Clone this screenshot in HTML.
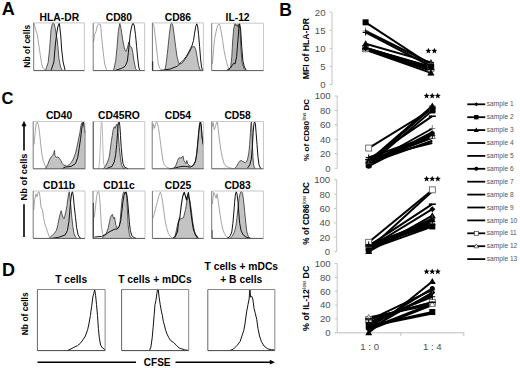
<!DOCTYPE html><html><head><meta charset="utf-8"><style>html,body{margin:0;padding:0;background:#fff;}svg{display:block;}text{font-family:"Liberation Sans",sans-serif;}</style></head><body>
<svg width="520" height="368" viewBox="0 0 520 368">
<rect width="520" height="368" fill="#fff"/>
<text x="8.3" y="14.8" font-size="18" font-weight="bold" text-anchor="middle" fill="#000" >A</text>
<text x="285.5" y="15.6" font-size="17.5" font-weight="bold" text-anchor="middle" fill="#000" >B</text>
<text x="7.4" y="103.5" font-size="16.5" font-weight="bold" text-anchor="middle" fill="#000" >C</text>
<text x="8.5" y="275.9" font-size="18" font-weight="bold" text-anchor="middle" fill="#000" >D</text>
<text x="59.35" y="20.8" font-size="10.3" font-weight="bold" text-anchor="middle" fill="#000" >HLA-DR</text>
<text x="118.9" y="20.8" font-size="10.3" font-weight="bold" text-anchor="middle" fill="#000" >CD80</text>
<text x="177.9" y="20.8" font-size="10.3" font-weight="bold" text-anchor="middle" fill="#000" >CD86</text>
<text x="237.6" y="20.8" font-size="10.3" font-weight="bold" text-anchor="middle" fill="#000" >IL-12</text>
<text x="0" y="0" font-size="8.5" font-weight="bold" text-anchor="middle" fill="#000" transform="translate(30,46.2) rotate(-90)">Nb of cells</text>
<polygon points="45.4,70.6 45.4,70.6 48.2,62.4 49.7,48.3 51.0,30.0 52.5,23.1 53.9,23.1 55.3,28.5 56.3,35.0 57.4,41.0 58.9,58.0 60.5,67.0 62.4,70.6 62.4,70.6" fill="#c3c3c3" stroke="none"/>
<polyline points="45.4,70.6 48.2,62.4 49.7,48.3 51.0,30.0 52.5,23.1 53.9,23.1 55.3,28.5 56.3,35.0 57.4,41.0 58.9,58.0 60.5,67.0 62.4,70.6" fill="none" stroke="#3a3a3a" stroke-width="0.85" stroke-linejoin="round"/>
<polyline points="51.0,70.6 53.9,62.0 55.3,45.0 56.5,35.0 57.8,27.0 59.3,23.0 60.7,35.0 61.7,50.0 63.1,62.0 65.2,70.6" fill="none" stroke="#111" stroke-width="1.0" stroke-linejoin="round"/>
<polyline points="33.7,22.9 35.9,30.3 37.3,34.7 38.8,44.9 40.3,55.2 41.7,64.0 43.2,68.4 46.0,70.6" fill="none" stroke="#9a9a9a" stroke-width="0.9" stroke-linejoin="round"/>
<line x1="33.7" y1="22.9" x2="84.4" y2="22.9" stroke="#c8c8c8" stroke-width="1"/>
<line x1="84.4" y1="22.9" x2="84.4" y2="70.6" stroke="#c8c8c8" stroke-width="1"/>
<line x1="33.7" y1="22.9" x2="33.7" y2="70.6" stroke="#777" stroke-width="1"/>
<line x1="33.7" y1="70.6" x2="84.4" y2="70.6" stroke="#555" stroke-width="1"/>
<polyline points="93.7,42.0 94.4,34.7 95.9,31.7 97.3,25.9 98.8,23.7 100.3,24.4 101.0,28.8 101.7,37.6 103.2,52.3 104.7,64.0 106.1,69.1 107.6,70.6" fill="none" stroke="#9a9a9a" stroke-width="0.9" stroke-linejoin="round"/>
<polygon points="113.5,70.6 113.5,70.6 115.7,61.0 117.1,46.4 118.3,31.7 119.8,23.2 121.1,28.8 122.6,39.1 124.5,49.3 125.9,51.5 127.4,47.9 128.9,42.0 129.9,45.7 131.8,47.9 132.8,52.3 134.0,61.0 135.5,68.4 136.9,70.6 136.9,70.6" fill="#c3c3c3" stroke="none"/>
<polyline points="113.5,70.6 115.7,61.0 117.1,46.4 118.3,31.7 119.8,23.2 121.1,28.8 122.6,39.1 124.5,49.3 125.9,51.5 127.4,47.9 128.9,42.0 129.9,45.7 131.8,47.9 132.8,52.3 134.0,61.0 135.5,68.4 136.9,70.6" fill="none" stroke="#3a3a3a" stroke-width="0.85" stroke-linejoin="round"/>
<polyline points="114.9,70.6 121.5,68.4 125.2,66.2 127.4,61.0 128.4,52.3 129.3,43.5 130.3,33.2 131.8,25.9 133.0,22.9 134.3,25.9 135.5,34.7 136.6,46.4 137.7,58.1 138.7,66.9 139.9,70.6" fill="none" stroke="#111" stroke-width="1.0" stroke-linejoin="round"/>
<line x1="93.2" y1="22.9" x2="144.6" y2="22.9" stroke="#c8c8c8" stroke-width="1"/>
<line x1="144.6" y1="22.9" x2="144.6" y2="70.6" stroke="#c8c8c8" stroke-width="1"/>
<line x1="93.2" y1="22.9" x2="93.2" y2="70.6" stroke="#777" stroke-width="1"/>
<line x1="93.2" y1="70.6" x2="144.6" y2="70.6" stroke="#555" stroke-width="1"/>
<polyline points="152.7,22.9 153.9,25.9 155.0,34.7 156.1,43.5 157.1,53.7 158.3,64.0 159.7,68.4 161.9,69.9 163.0,70.6" fill="none" stroke="#9a9a9a" stroke-width="0.9" stroke-linejoin="round"/>
<polygon points="164.9,70.6 164.9,70.6 166.3,62.5 167.8,49.3 169.3,34.7 170.7,24.4 171.8,22.9 172.9,25.9 174.1,34.7 175.6,46.4 177.0,56.7 178.8,63.3 181.0,64.0 183.9,61.0 186.9,56.7 189.8,51.5 192.0,47.1 194.2,46.4 195.7,49.3 197.1,56.7 198.6,65.5 200.1,69.9 201.5,70.6 201.5,70.6" fill="#c3c3c3" stroke="none"/>
<polyline points="164.9,70.6 166.3,62.5 167.8,49.3 169.3,34.7 170.7,24.4 171.8,22.9 172.9,25.9 174.1,34.7 175.6,46.4 177.0,56.7 178.8,63.3 181.0,64.0 183.9,61.0 186.9,56.7 189.8,51.5 192.0,47.1 194.2,46.4 195.7,49.3 197.1,56.7 198.6,65.5 200.1,69.9 201.5,70.6" fill="none" stroke="#3a3a3a" stroke-width="0.85" stroke-linejoin="round"/>
<polyline points="159.7,70.6 170.0,69.1 177.3,66.2 181.0,62.5 183.9,59.6 186.1,56.7 188.3,53.0 190.5,48.6 192.0,45.7 193.5,40.5 194.6,33.2 195.7,26.6 196.7,23.7 197.6,25.9 198.6,34.7 199.6,46.4 200.5,58.1 201.5,66.9 202.6,70.6" fill="none" stroke="#111" stroke-width="1.0" stroke-linejoin="round"/>
<line x1="152.4" y1="22.9" x2="203.4" y2="22.9" stroke="#c8c8c8" stroke-width="1"/>
<line x1="203.4" y1="22.9" x2="203.4" y2="70.6" stroke="#c8c8c8" stroke-width="1"/>
<line x1="152.4" y1="22.9" x2="152.4" y2="70.6" stroke="#777" stroke-width="1"/>
<line x1="152.4" y1="70.6" x2="203.4" y2="70.6" stroke="#555" stroke-width="1"/>
<polyline points="152.6,61.4 152.6,70.6" fill="none" stroke="#333" stroke-width="1.3" stroke-linejoin="round"/>
<polyline points="212.4,64.0 213.6,49.3 214.6,39.1 216.1,31.7 217.5,25.9 219.0,23.7 220.0,25.9 221.2,31.7 222.7,40.5 224.1,50.8 225.6,58.1 227.1,64.0 228.5,68.4 230.0,70.6" fill="none" stroke="#9a9a9a" stroke-width="0.9" stroke-linejoin="round"/>
<polygon points="228.5,70.6 228.5,70.6 230.7,66.9 231.8,56.7 232.6,42.0 233.7,28.8 235.1,23.2 236.2,25.9 237.0,24.4 238.1,27.3 239.1,23.7 240.0,28.8 241.0,49.3 242.0,62.5 243.9,68.4 246.1,70.6 246.1,70.6" fill="#b0b0b0" stroke="none"/>
<polyline points="228.5,70.6 230.7,66.9 231.8,56.7 232.6,42.0 233.7,28.8 235.1,23.2 236.2,25.9 237.0,24.4 238.1,27.3 239.1,23.7 240.0,28.8 241.0,49.3 242.0,62.5 243.9,68.4 246.1,70.6" fill="none" stroke="#3a3a3a" stroke-width="0.85" stroke-linejoin="round"/>
<polyline points="226.3,70.6 230.0,68.4 232.2,65.5 233.7,63.3 235.1,64.0 236.6,56.7 237.8,42.0 238.8,28.8 239.5,23.2 240.6,28.8 241.7,46.4 242.9,61.0 244.4,66.9 246.4,70.6" fill="none" stroke="#111" stroke-width="1.0" stroke-linejoin="round"/>
<line x1="211.7" y1="23.2" x2="263.5" y2="23.2" stroke="#c8c8c8" stroke-width="1"/>
<line x1="263.5" y1="23.2" x2="263.5" y2="70.6" stroke="#c8c8c8" stroke-width="1"/>
<line x1="211.7" y1="23.2" x2="211.7" y2="70.6" stroke="#777" stroke-width="1"/>
<line x1="211.7" y1="70.6" x2="263.5" y2="70.6" stroke="#555" stroke-width="1"/>
<polyline points="34.1,144.4 35.1,132.7 36.2,123.9 37.3,121.7 38.5,125.3 39.5,132.7 40.6,142.9 41.7,153.2 43.2,160.5 44.7,164.9 46.1,167.9 48.0,168.8" fill="none" stroke="#9a9a9a" stroke-width="0.9" stroke-linejoin="round"/>
<polygon points="45.4,168.8 45.4,168.8 47.6,164.9 49.8,159.1 51.3,156.9 52.7,155.4 53.8,153.2 54.5,150.3 54.9,155.4 56.4,157.6 57.9,156.9 59.3,158.3 60.8,160.5 62.3,163.5 64.0,165.7 65.2,164.9 66.7,166.4 68.9,164.9 71.1,162.7 73.3,159.1 75.5,153.2 76.9,147.3 78.4,140.0 79.9,132.7 81.0,125.3 82.1,122.4 83.1,121.7 84.0,123.9 85.0,132.7 85.0,168.8 85.0,168.8" fill="#c3c3c3" stroke="none"/>
<polyline points="45.4,168.8 47.6,164.9 49.8,159.1 51.3,156.9 52.7,155.4 53.8,153.2 54.5,150.3 54.9,155.4 56.4,157.6 57.9,156.9 59.3,158.3 60.8,160.5 62.3,163.5 64.0,165.7 65.2,164.9 66.7,166.4 68.9,164.9 71.1,162.7 73.3,159.1 75.5,153.2 76.9,147.3 78.4,140.0 79.9,132.7 81.0,125.3 82.1,122.4 83.1,121.7 84.0,123.9 85.0,132.7 85.0,168.8" fill="none" stroke="#3a3a3a" stroke-width="0.85" stroke-linejoin="round"/>
<polyline points="62.0,168.8 65.2,167.1 71.1,166.4 75.5,163.5 77.7,157.6 79.1,148.8 80.6,138.5 81.6,129.7 82.5,123.9 83.5,122.4 84.3,126.8 85.0,133.0" fill="none" stroke="#111" stroke-width="1.0" stroke-linejoin="round"/>
<line x1="33.2" y1="121.5" x2="85" y2="121.5" stroke="#c8c8c8" stroke-width="1"/>
<line x1="85" y1="121.5" x2="85" y2="168.8" stroke="#c8c8c8" stroke-width="1"/>
<line x1="33.2" y1="121.5" x2="33.2" y2="168.8" stroke="#777" stroke-width="1"/>
<line x1="33.2" y1="168.8" x2="85" y2="168.8" stroke="#555" stroke-width="1"/>
<polyline points="98.8,168.8 99.5,162.0 100.3,147.3 100.7,132.7 101.3,122.4 102.0,122.4 102.5,132.7 102.9,147.3 103.5,162.0 104.7,167.9 106.0,168.8" fill="none" stroke="#b0b0b0" stroke-width="0.9" stroke-linejoin="round"/>
<polygon points="103.2,168.8 103.2,168.8 105.4,166.4 107.6,162.0 109.1,157.6 110.2,150.3 111.3,141.5 112.3,135.6 113.2,129.7 114.2,126.8 115.2,128.3 116.1,125.3 117.1,123.9 117.9,129.7 118.6,138.5 119.3,147.3 120.4,157.6 121.5,164.9 123.0,167.9 125.2,168.8 125.2,168.8" fill="#c3c3c3" stroke="none"/>
<polyline points="103.2,168.8 105.4,166.4 107.6,162.0 109.1,157.6 110.2,150.3 111.3,141.5 112.3,135.6 113.2,129.7 114.2,126.8 115.2,128.3 116.1,125.3 117.1,123.9 117.9,129.7 118.6,138.5 119.3,147.3 120.4,157.6 121.5,164.9 123.0,167.9 125.2,168.8" fill="none" stroke="#3a3a3a" stroke-width="0.85" stroke-linejoin="round"/>
<polyline points="106.1,168.8 112.0,166.4 114.2,162.0 115.7,154.7 116.7,144.4 117.6,132.7 118.3,123.9 119.0,121.7 119.8,125.3 120.5,135.6 121.2,147.3 122.0,156.1 123.0,163.5 124.5,167.1 128.1,168.8" fill="none" stroke="#111" stroke-width="1.0" stroke-linejoin="round"/>
<line x1="93.2" y1="121.5" x2="144.8" y2="121.5" stroke="#c8c8c8" stroke-width="1"/>
<line x1="144.8" y1="121.5" x2="144.8" y2="168.8" stroke="#c8c8c8" stroke-width="1"/>
<line x1="93.2" y1="121.5" x2="93.2" y2="168.8" stroke="#333" stroke-width="1"/>
<line x1="93.2" y1="168.8" x2="144.8" y2="168.8" stroke="#555" stroke-width="1"/>
<polyline points="152.7,129.7 153.4,123.9 154.6,128.3 155.6,123.9 156.6,121.7 157.5,123.9 158.5,128.3 159.6,135.6 160.7,144.4 161.9,153.2 162.9,160.5 164.4,164.9 166.6,167.1 169.5,168.3" fill="none" stroke="#9a9a9a" stroke-width="0.9" stroke-linejoin="round"/>
<polygon points="173.9,168.8 173.9,168.8 176.1,164.9 177.6,160.5 178.6,158.3 179.8,157.6 181.0,158.3 182.0,156.9 183.0,156.1 183.9,160.5 184.9,162.0 186.0,163.5 186.8,160.5 187.7,163.5 189.3,165.7 191.5,166.4 193.7,164.9 195.6,160.5 196.7,153.2 197.7,142.9 198.6,132.7 199.3,125.3 200.3,121.7 201.1,125.3 201.8,137.1 202.5,140.0 203.4,142.9 203.4,168.8 203.4,168.8" fill="#c3c3c3" stroke="none"/>
<polyline points="173.9,168.8 176.1,164.9 177.6,160.5 178.6,158.3 179.8,157.6 181.0,158.3 182.0,156.9 183.0,156.1 183.9,160.5 184.9,162.0 186.0,163.5 186.8,160.5 187.7,163.5 189.3,165.7 191.5,166.4 193.7,164.9 195.6,160.5 196.7,153.2 197.7,142.9 198.6,132.7 199.3,125.3 200.3,121.7 201.1,125.3 201.8,137.1 202.5,140.0 203.4,142.9 203.4,168.8" fill="none" stroke="#3a3a3a" stroke-width="0.85" stroke-linejoin="round"/>
<polyline points="169.5,168.8 175.4,167.9 178.3,167.1 182.0,166.4 185.7,166.4 190.1,167.1 193.0,165.7 195.2,162.0 196.7,154.7 197.8,142.9 198.9,131.2 199.9,123.1 200.6,121.7 201.4,126.8 202.1,135.6 203.0,144.4" fill="none" stroke="#111" stroke-width="1.0" stroke-linejoin="round"/>
<line x1="152.2" y1="121.5" x2="203.6" y2="121.5" stroke="#c8c8c8" stroke-width="1"/>
<line x1="203.6" y1="121.5" x2="203.6" y2="168.8" stroke="#c8c8c8" stroke-width="1"/>
<line x1="152.2" y1="121.5" x2="152.2" y2="168.8" stroke="#777" stroke-width="1"/>
<line x1="152.2" y1="168.8" x2="203.6" y2="168.8" stroke="#555" stroke-width="1"/>
<polyline points="212.1,126.8 213.1,122.4 214.2,129.7 215.3,126.8 216.5,123.1 217.4,121.7 218.3,129.7 219.4,140.0 220.9,150.3 222.4,157.6 224.1,163.5 226.3,166.4 230.0,167.9 233.7,168.8" fill="none" stroke="#9a9a9a" stroke-width="0.9" stroke-linejoin="round"/>
<polygon points="234.4,168.8 234.4,168.8 236.6,166.4 238.1,163.5 239.5,161.3 241.0,160.5 242.5,161.3 243.9,162.0 245.4,162.7 246.4,162.0 247.6,159.1 248.8,153.2 249.7,144.4 250.4,132.7 251.0,123.9 251.4,121.7 252.0,129.7 252.4,144.4 252.9,156.1 253.5,164.9 254.9,168.8 254.9,168.8" fill="#c3c3c3" stroke="none"/>
<polyline points="234.4,168.8 236.6,166.4 238.1,163.5 239.5,161.3 241.0,160.5 242.5,161.3 243.9,162.0 245.4,162.7 246.4,162.0 247.6,159.1 248.8,153.2 249.7,144.4 250.4,132.7 251.0,123.9 251.4,121.7 252.0,129.7 252.4,144.4 252.9,156.1 253.5,164.9 254.9,168.8" fill="none" stroke="#3a3a3a" stroke-width="0.85" stroke-linejoin="round"/>
<polyline points="247.6,167.9 249.8,164.9 251.3,159.1 252.3,147.3 253.2,132.7 253.9,123.9 254.6,121.7 255.4,123.9 256.1,132.7 257.0,144.4 257.9,156.1 259.0,164.9 260.8,168.8" fill="none" stroke="#111" stroke-width="1.0" stroke-linejoin="round"/>
<line x1="211.7" y1="121.5" x2="263.5" y2="121.5" stroke="#c8c8c8" stroke-width="1"/>
<line x1="263.5" y1="121.5" x2="263.5" y2="168.8" stroke="#c8c8c8" stroke-width="1"/>
<line x1="211.7" y1="121.5" x2="211.7" y2="168.8" stroke="#777" stroke-width="1"/>
<line x1="211.7" y1="168.8" x2="263.5" y2="168.8" stroke="#555" stroke-width="1"/>
<polyline points="33.7,210.0 34.7,199.7 35.9,193.9 37.0,196.8 38.1,192.4 39.1,191.7 40.0,196.8 41.0,207.1 42.5,210.0 43.5,217.3 44.7,223.2 46.1,227.6 47.6,232.0 49.1,236.4 50.5,238.4" fill="none" stroke="#9a9a9a" stroke-width="0.9" stroke-linejoin="round"/>
<polygon points="49.1,238.4 49.1,238.4 52.0,235.7 54.2,233.5 56.4,230.5 57.9,224.7 59.3,217.3 60.5,212.9 61.2,210.7 62.0,214.4 63.0,217.3 64.0,218.8 64.9,215.9 65.9,211.5 67.0,205.6 68.1,196.8 69.2,191.7 69.9,196.8 70.8,205.6 71.8,217.3 72.8,226.1 74.0,233.5 75.5,237.1 76.9,238.4 76.9,238.4" fill="#c3c3c3" stroke="none"/>
<polyline points="49.1,238.4 52.0,235.7 54.2,233.5 56.4,230.5 57.9,224.7 59.3,217.3 60.5,212.9 61.2,210.7 62.0,214.4 63.0,217.3 64.0,218.8 64.9,215.9 65.9,211.5 67.0,205.6 68.1,196.8 69.2,191.7 69.9,196.8 70.8,205.6 71.8,217.3 72.8,226.1 74.0,233.5 75.5,237.1 76.9,238.4" fill="none" stroke="#3a3a3a" stroke-width="0.85" stroke-linejoin="round"/>
<polyline points="52.0,238.4 59.3,237.1 65.2,234.9 67.4,230.5 68.9,221.7 69.9,210.0 70.8,199.7 71.7,193.1 72.5,191.7 73.4,196.8 74.3,207.1 75.5,217.3 76.6,227.6 78.1,234.9 79.9,237.9 81.3,238.4" fill="none" stroke="#111" stroke-width="1.0" stroke-linejoin="round"/>
<line x1="33.2" y1="191" x2="85" y2="191" stroke="#c8c8c8" stroke-width="1"/>
<line x1="85" y1="191" x2="85" y2="238.4" stroke="#c8c8c8" stroke-width="1"/>
<line x1="33.2" y1="191" x2="33.2" y2="238.4" stroke="#777" stroke-width="1"/>
<line x1="33.2" y1="238.4" x2="85" y2="238.4" stroke="#555" stroke-width="1"/>
<polyline points="94.4,217.3 95.6,205.6 96.6,196.8 97.6,191.7 98.5,190.9 99.2,193.9 100.0,202.7 100.7,214.4 101.4,226.1 102.5,233.5 103.9,236.4 105.0,238.4" fill="none" stroke="#9a9a9a" stroke-width="0.9" stroke-linejoin="round"/>
<polygon points="101.7,238.4 101.7,238.4 104.7,235.7 106.9,232.0 108.3,227.6 109.5,221.7 110.5,217.3 111.7,215.1 112.4,214.4 113.2,217.3 113.9,218.8 114.6,217.3 115.7,224.7 116.7,227.6 117.9,228.3 119.0,226.8 120.1,221.7 121.1,210.0 122.0,199.7 123.0,193.9 124.0,191.7 124.9,193.9 125.9,191.7 126.7,196.8 127.4,210.0 128.1,224.7 129.2,233.5 130.3,237.1 132.5,238.4 132.5,238.4" fill="#c3c3c3" stroke="none"/>
<polyline points="101.7,238.4 104.7,235.7 106.9,232.0 108.3,227.6 109.5,221.7 110.5,217.3 111.7,215.1 112.4,214.4 113.2,217.3 113.9,218.8 114.6,217.3 115.7,224.7 116.7,227.6 117.9,228.3 119.0,226.8 120.1,221.7 121.1,210.0 122.0,199.7 123.0,193.9 124.0,191.7 124.9,193.9 125.9,191.7 126.7,196.8 127.4,210.0 128.1,224.7 129.2,233.5 130.3,237.1 132.5,238.4" fill="none" stroke="#3a3a3a" stroke-width="0.85" stroke-linejoin="round"/>
<polyline points="94.4,237.1 101.7,236.4 106.1,234.2 109.1,232.0 112.0,230.5 114.9,229.1 117.1,229.1 119.3,226.1 120.8,220.3 122.0,210.0 123.0,201.2 124.0,195.3 125.2,192.4 126.4,192.4 127.4,198.3 128.4,210.0 129.3,221.7 130.3,230.5 131.8,235.7 134.0,237.6 136.0,238.4" fill="none" stroke="#111" stroke-width="1.0" stroke-linejoin="round"/>
<polyline points="93.4,203.0 93.4,238.4" fill="none" stroke="#222" stroke-width="1.2" stroke-linejoin="round"/>
<line x1="93" y1="191" x2="145" y2="191" stroke="#c8c8c8" stroke-width="1"/>
<line x1="145" y1="191" x2="145" y2="238.4" stroke="#c8c8c8" stroke-width="1"/>
<line x1="93" y1="191" x2="93" y2="238.4" stroke="#777" stroke-width="1"/>
<line x1="93" y1="238.4" x2="145" y2="238.4" stroke="#555" stroke-width="1"/>
<polyline points="152.7,218.8 154.1,214.4 155.6,208.5 157.1,202.7 158.5,196.8 159.6,193.9 160.4,192.1 161.5,195.3 162.5,201.2 163.7,210.0 165.1,220.3 166.6,227.6 168.4,233.5 170.3,236.4 172.5,237.9" fill="none" stroke="#9a9a9a" stroke-width="0.9" stroke-linejoin="round"/>
<polygon points="173.5,238.4 173.5,238.4 175.0,236.2 176.5,230.0 177.8,223.4 179.9,219.2 181.5,218.5 183.5,217.7 185.6,209.2 187.0,200.7 188.4,196.5 189.8,200.7 191.2,209.2 192.7,222.0 194.8,233.3 196.9,237.6 198.0,238.4 198.0,238.4" fill="#c3c3c3" stroke="none"/>
<polyline points="173.5,238.4 175.0,236.2 176.5,230.0 177.8,223.4 179.9,219.2 181.5,218.5 183.5,217.7 185.6,209.2 187.0,200.7 188.4,196.5 189.8,200.7 191.2,209.2 192.7,222.0 194.8,233.3 196.9,237.6 198.0,238.4" fill="none" stroke="#3a3a3a" stroke-width="0.85" stroke-linejoin="round"/>
<polyline points="173.0,238.4 175.4,236.4 177.6,231.0 178.5,222.0 179.9,217.0 181.3,205.0 182.7,196.5 184.2,192.2 185.6,196.5 186.5,200.0 187.5,196.0 188.4,192.5 189.8,202.2 190.5,209.2 192.0,220.6 193.4,229.1 195.5,234.7 198.3,238.4" fill="none" stroke="#111" stroke-width="1.1" stroke-linejoin="round"/>
<line x1="152.4" y1="191" x2="203.6" y2="191" stroke="#c8c8c8" stroke-width="1"/>
<line x1="203.6" y1="191" x2="203.6" y2="238.4" stroke="#c8c8c8" stroke-width="1"/>
<line x1="152.4" y1="191" x2="152.4" y2="238.4" stroke="#777" stroke-width="1"/>
<line x1="152.4" y1="238.4" x2="203.6" y2="238.4" stroke="#555" stroke-width="1"/>
<polyline points="212.4,204.1 213.1,196.8 213.9,192.4 215.0,195.3 216.1,198.3 217.1,193.9 218.0,199.7 219.0,207.1 220.0,214.4 221.2,221.7 222.7,229.1 224.4,233.5 226.3,236.4 228.5,237.9" fill="none" stroke="#9a9a9a" stroke-width="0.9" stroke-linejoin="round"/>
<polyline points="212.1,230.0 212.1,238.4" fill="none" stroke="#333" stroke-width="1.0" stroke-linejoin="round"/>
<polygon points="230.0,238.4 230.0,238.4 232.2,236.4 234.4,232.0 235.9,226.1 237.0,217.3 238.1,207.1 239.1,198.3 240.3,193.1 241.4,191.2 242.5,193.1 243.5,199.7 244.7,211.5 245.8,223.2 246.9,232.0 248.3,236.4 250.5,238.4 250.5,238.4" fill="#c3c3c3" stroke="none"/>
<polyline points="230.0,238.4 232.2,236.4 234.4,232.0 235.9,226.1 237.0,217.3 238.1,207.1 239.1,198.3 240.3,193.1 241.4,191.2 242.5,193.1 243.5,199.7 244.7,211.5 245.8,223.2 246.9,232.0 248.3,236.4 250.5,238.4" fill="none" stroke="#3a3a3a" stroke-width="0.85" stroke-linejoin="round"/>
<polyline points="227.1,238.4 230.0,236.4 231.8,232.0 232.9,223.2 233.8,212.9 234.6,202.7 235.3,195.3 236.2,191.7 237.0,193.9 237.9,201.2 238.8,212.9 239.7,223.2 241.0,230.5 243.2,234.9 246.1,237.1 250.5,238.4" fill="none" stroke="#111" stroke-width="1.0" stroke-linejoin="round"/>
<line x1="211.7" y1="191" x2="263.4" y2="191" stroke="#c8c8c8" stroke-width="1"/>
<line x1="263.4" y1="191" x2="263.4" y2="238.4" stroke="#c8c8c8" stroke-width="1"/>
<line x1="211.7" y1="191" x2="211.7" y2="238.4" stroke="#777" stroke-width="1"/>
<line x1="211.7" y1="238.4" x2="263.4" y2="238.4" stroke="#555" stroke-width="1"/>
<polyline points="67.3,350.6 71.0,348.9 73.8,347.4 77.5,345.6 80.3,343.4 83.0,339.7 85.4,336.0 87.7,329.5 89.1,323.0 90.4,315.6 91.7,306.4 92.8,297.1 93.8,293.4 94.7,289.7 95.6,295.3 96.5,304.5 97.5,315.6 98.4,328.6 99.3,337.8 100.6,345.2 102.5,348.0 105.2,349.8" fill="none" stroke="#111" stroke-width="1.0" stroke-linejoin="round"/>
<line x1="37.4" y1="289.5" x2="105.1" y2="289.5" stroke="#888" stroke-width="1"/>
<line x1="105.1" y1="289.5" x2="105.1" y2="350.6" stroke="#888" stroke-width="1"/>
<line x1="37.4" y1="289.5" x2="37.4" y2="350.6" stroke="#666" stroke-width="1"/>
<line x1="37.4" y1="350.6" x2="105.1" y2="350.6" stroke="#444" stroke-width="1"/>
<polyline points="149.5,350.6 150.9,347.1 152.2,337.8 153.2,326.7 154.1,315.6 155.0,304.5 155.9,300.8 156.9,293.4 157.6,289.3 158.3,289.7 159.1,297.1 160.2,304.5 161.5,311.9 162.4,315.6 163.3,321.2 164.3,324.9 165.7,330.4 167.0,334.1 168.9,337.8 170.7,340.6 173.5,342.4 176.3,345.2 179.1,348.0 181.8,348.9 184.6,349.8 188.3,350.4" fill="none" stroke="#111" stroke-width="1.0" stroke-linejoin="round"/>
<line x1="121.6" y1="289.5" x2="188.7" y2="289.5" stroke="#888" stroke-width="1"/>
<line x1="188.7" y1="289.5" x2="188.7" y2="350.6" stroke="#888" stroke-width="1"/>
<line x1="121.6" y1="289.5" x2="121.6" y2="350.6" stroke="#666" stroke-width="1"/>
<line x1="121.6" y1="350.6" x2="188.7" y2="350.6" stroke="#444" stroke-width="1"/>
<polyline points="229.9,350.6 233.6,348.9 237.3,345.2 240.1,341.5 241.9,336.0 243.8,330.4 245.1,323.0 246.6,311.9 248.0,304.5 249.1,299.0 249.9,289.7 250.6,297.1 251.7,296.2 252.8,299.0 254.0,308.2 255.4,313.8 256.7,319.3 258.0,328.6 259.5,336.0 261.4,341.5 264.1,346.1 267.8,348.9 271.5,349.8 274.3,349.8" fill="none" stroke="#111" stroke-width="1.0" stroke-linejoin="round"/>
<line x1="207.8" y1="289.5" x2="274.8" y2="289.5" stroke="#888" stroke-width="1"/>
<line x1="274.8" y1="289.5" x2="274.8" y2="350.6" stroke="#888" stroke-width="1"/>
<line x1="207.8" y1="289.5" x2="207.8" y2="350.6" stroke="#666" stroke-width="1"/>
<line x1="207.8" y1="350.6" x2="274.8" y2="350.6" stroke="#444" stroke-width="1"/>
<text x="59.1" y="118.9" font-size="10.3" font-weight="bold" text-anchor="middle" fill="#000" >CD40</text>
<text x="119.0" y="118.9" font-size="10.3" font-weight="bold" text-anchor="middle" fill="#000" >CD45RO</text>
<text x="177.89999999999998" y="118.9" font-size="10.3" font-weight="bold" text-anchor="middle" fill="#000" >CD54</text>
<text x="237.6" y="118.9" font-size="10.3" font-weight="bold" text-anchor="middle" fill="#000" >CD58</text>
<text x="59.1" y="189.3" font-size="10.3" font-weight="bold" text-anchor="middle" fill="#000" >CD11b</text>
<text x="119.0" y="189.3" font-size="10.3" font-weight="bold" text-anchor="middle" fill="#000" >CD11c</text>
<text x="178.0" y="189.3" font-size="10.3" font-weight="bold" text-anchor="middle" fill="#000" >CD25</text>
<text x="237.54999999999998" y="189.3" font-size="10.3" font-weight="bold" text-anchor="middle" fill="#000" >CD83</text>
<text x="0" y="0" font-size="9.3" font-weight="bold" text-anchor="middle" fill="#000" transform="translate(27.3,177) rotate(-90)">Nb of cells</text>
<line x1="24" y1="125" x2="24" y2="150.5" stroke="#000" stroke-width="1.6"/>
<line x1="24" y1="204.3" x2="24" y2="237" stroke="#000" stroke-width="1.6"/>
<polygon points="24,120.8 21.5,126.3 26.5,126.3" fill="#000"/>
<text x="0" y="0" font-size="8.5" font-weight="bold" text-anchor="middle" fill="#000" transform="translate(28,313.8) rotate(-90)">Nb of cells</text>
<text x="71.2" y="282.5" font-size="10.3" font-weight="bold" text-anchor="middle" fill="#000" >T cells</text>
<text x="155" y="282.5" font-size="10.3" font-weight="bold" text-anchor="middle" fill="#000" >T cells + mDCs</text>
<text x="241.3" y="269.6" font-size="10.3" font-weight="bold" text-anchor="middle" fill="#000" >T cells + mDCs</text>
<text x="241.3" y="282.5" font-size="10.3" font-weight="bold" text-anchor="middle" fill="#000" >+ B cells</text>
<line x1="37.5" y1="362.2" x2="136" y2="362.2" stroke="#000" stroke-width="1.4"/>
<line x1="175.5" y1="362.2" x2="271" y2="362.2" stroke="#000" stroke-width="1.4"/>
<polygon points="275,362.2 269.8,359.8 269.8,364.6" fill="#000"/>
<text x="157.2" y="365.8" font-size="10" font-weight="bold" text-anchor="middle" fill="#000" >CFSE</text>
<line x1="332" y1="12.2" x2="332" y2="84.5" stroke="#c4c4c4" stroke-width="1"/>
<line x1="329.5" y1="84.5" x2="332" y2="84.5" stroke="#c4c4c4" stroke-width="1"/>
<text x="325.5" y="87.9" font-size="9.6" font-weight="normal" text-anchor="end" fill="#505050" >0</text>
<line x1="329.5" y1="66.4" x2="332" y2="66.4" stroke="#c4c4c4" stroke-width="1"/>
<text x="325.5" y="69.825" font-size="9.6" font-weight="normal" text-anchor="end" fill="#505050" >5</text>
<line x1="329.5" y1="48.4" x2="332" y2="48.4" stroke="#c4c4c4" stroke-width="1"/>
<text x="325.5" y="51.75" font-size="9.6" font-weight="normal" text-anchor="end" fill="#505050" >10</text>
<line x1="329.5" y1="30.3" x2="332" y2="30.3" stroke="#c4c4c4" stroke-width="1"/>
<text x="325.5" y="33.675000000000004" font-size="9.6" font-weight="normal" text-anchor="end" fill="#505050" >15</text>
<line x1="329.5" y1="12.2" x2="332" y2="12.2" stroke="#c4c4c4" stroke-width="1"/>
<text x="325.5" y="15.600000000000003" font-size="9.6" font-weight="normal" text-anchor="end" fill="#505050" >20</text>
<text font-size="8.7" font-weight="bold" text-anchor="middle" transform="translate(308.5,48.6) rotate(-90)">MFI of HLA-DR</text>
<line x1="365.6" y1="48.4" x2="430.9" y2="67.9" stroke="#000" stroke-width="2"/>
<line x1="365.6" y1="22.3" x2="430.9" y2="65.0" stroke="#000" stroke-width="2"/>
<line x1="365.6" y1="43.7" x2="430.9" y2="62.4" stroke="#000" stroke-width="2"/>
<line x1="365.6" y1="48.7" x2="430.9" y2="69.3" stroke="#000" stroke-width="2"/>
<line x1="365.6" y1="31.0" x2="430.9" y2="63.5" stroke="#000" stroke-width="2"/>
<line x1="365.6" y1="48.0" x2="430.9" y2="66.8" stroke="#000" stroke-width="2"/>
<line x1="365.6" y1="32.4" x2="430.9" y2="66.4" stroke="#000" stroke-width="2"/>
<line x1="365.6" y1="49.1" x2="430.9" y2="70.0" stroke="#000" stroke-width="2"/>
<line x1="365.6" y1="49.4" x2="430.9" y2="70.8" stroke="#000" stroke-width="2"/>
<line x1="365.6" y1="47.6" x2="430.9" y2="68.6" stroke="#000" stroke-width="2"/>
<line x1="365.6" y1="48.4" x2="430.9" y2="68.2" stroke="#000" stroke-width="2"/>
<line x1="365.6" y1="49.8" x2="430.9" y2="72.9" stroke="#000" stroke-width="2"/>
<line x1="365.6" y1="48.0" x2="430.9" y2="67.5" stroke="#000" stroke-width="2"/>
<rect x="362.6" y="45.35" width="6" height="6" fill="#fff" stroke="#555" stroke-width="0.8"/>
<rect x="427.9" y="65.2325" width="6" height="6" fill="#fff" stroke="#555" stroke-width="0.8"/>
<polygon points="365.6,46.79600000000001 368.6,51.79600000000001 362.6,51.79600000000001" fill="#fff" stroke="#555" stroke-width="0.8"/>
<polygon points="430.9,69.932 433.9,74.932 427.9,74.932" fill="#fff" stroke="#555" stroke-width="0.8"/>
<polygon points="365.6,45.35 368.6,48.35 365.6,51.35 362.6,48.35" fill="#000"/>
<polygon points="430.9,64.87100000000001 433.9,67.87100000000001 430.9,70.87100000000001 427.9,67.87100000000001" fill="#000"/>
<rect x="362.6" y="19.322000000000003" width="6" height="6" fill="#000"/>
<rect x="427.9" y="61.979" width="6" height="6" fill="#000"/>
<polygon points="365.6,40.1505 369.1,46.1505 362.1,46.1505" fill="#000"/>
<polygon points="430.9,58.9485 434.4,64.9485 427.4,64.9485" fill="#000"/>
<line x1="362.1" y1="48.7115" x2="369.1" y2="48.7115" stroke="#000" stroke-width="1.6"/>
<line x1="427.4" y1="69.317" x2="434.4" y2="69.317" stroke="#000" stroke-width="1.6"/>
<path d="M362.6,30.998000000000005L368.6,30.998000000000005M365.6,27.498000000000005L365.6,34.498000000000005" stroke="#666" stroke-width="0.8"/>
<path d="M427.9,63.533L433.9,63.533M430.9,60.033L430.9,67.033" stroke="#666" stroke-width="0.8"/>
<circle cx="365.6" cy="47.9885" r="2.5" fill="#000"/>
<circle cx="430.9" cy="66.78649999999999" r="2.5" fill="#000"/>
<path d="M362.6,32.444L368.6,32.444M365.6,29.444000000000003L365.6,35.444" stroke="#000" stroke-width="1"/>
<path d="M427.9,66.425L433.9,66.425M430.9,63.425L430.9,69.425" stroke="#000" stroke-width="1"/>
<polygon points="428.4,47.7 429.2,49.8 431.4,49.9 429.7,51.3 430.3,53.5 428.4,52.3 426.5,53.5 427.1,51.3 425.4,49.9 427.6,49.8" fill="#000"/>
<polygon points="434.4,47.7 435.2,49.8 437.4,49.9 435.7,51.3 436.3,53.5 434.4,52.3 432.5,53.5 433.1,51.3 431.4,49.9 433.6,49.8" fill="#000"/>
<polygon points="430.9,69.4 434.4,75.4 427.4,75.4" fill="#000"/>
<line x1="337.2" y1="96" x2="337.2" y2="168.3" stroke="#c4c4c4" stroke-width="1"/>
<line x1="334.7" y1="168.3" x2="337.2" y2="168.3" stroke="#c4c4c4" stroke-width="1"/>
<text x="330.7" y="171.70000000000002" font-size="9.6" font-weight="normal" text-anchor="end" fill="#505050" >0</text>
<line x1="334.7" y1="153.8" x2="337.2" y2="153.8" stroke="#c4c4c4" stroke-width="1"/>
<text x="330.7" y="157.24" font-size="9.6" font-weight="normal" text-anchor="end" fill="#505050" >20</text>
<line x1="334.7" y1="139.4" x2="337.2" y2="139.4" stroke="#c4c4c4" stroke-width="1"/>
<text x="330.7" y="142.78" font-size="9.6" font-weight="normal" text-anchor="end" fill="#505050" >40</text>
<line x1="334.7" y1="124.9" x2="337.2" y2="124.9" stroke="#c4c4c4" stroke-width="1"/>
<text x="330.7" y="128.32" font-size="9.6" font-weight="normal" text-anchor="end" fill="#505050" >60</text>
<line x1="334.7" y1="110.5" x2="337.2" y2="110.5" stroke="#c4c4c4" stroke-width="1"/>
<text x="330.7" y="113.86000000000001" font-size="9.6" font-weight="normal" text-anchor="end" fill="#505050" >80</text>
<line x1="334.7" y1="96.0" x2="337.2" y2="96.0" stroke="#c4c4c4" stroke-width="1"/>
<text x="330.7" y="99.4" font-size="9.6" font-weight="normal" text-anchor="end" fill="#505050" >100</text>
<text font-size="8.1" font-weight="bold" text-anchor="middle" transform="translate(308.5,129.9) rotate(-90)">% of CD80<tspan font-size="5.2" font-weight="normal" dy="-2.6" dx="0.3">low</tspan><tspan dy="2.6"> DC</tspan></text>
<line x1="368.7" y1="162.5" x2="432.3" y2="107.6" stroke="#000" stroke-width="2"/>
<line x1="368.7" y1="164.7" x2="432.3" y2="110.5" stroke="#000" stroke-width="2"/>
<line x1="368.7" y1="161.1" x2="432.3" y2="106.1" stroke="#000" stroke-width="2"/>
<line x1="368.7" y1="159.6" x2="432.3" y2="116.2" stroke="#000" stroke-width="2"/>
<line x1="368.7" y1="164.0" x2="432.3" y2="128.5" stroke="#000" stroke-width="2"/>
<line x1="368.7" y1="166.1" x2="432.3" y2="133.6" stroke="#000" stroke-width="2"/>
<line x1="368.7" y1="157.5" x2="432.3" y2="135.8" stroke="#000" stroke-width="2"/>
<line x1="368.7" y1="161.8" x2="432.3" y2="137.9" stroke="#000" stroke-width="2"/>
<line x1="368.7" y1="163.2" x2="432.3" y2="140.8" stroke="#000" stroke-width="2"/>
<line x1="368.7" y1="165.4" x2="432.3" y2="132.2" stroke="#000" stroke-width="2"/>
<line x1="368.7" y1="148.1" x2="432.3" y2="109.0" stroke="#000" stroke-width="2"/>
<line x1="368.7" y1="160.3" x2="432.3" y2="136.5" stroke="#000" stroke-width="2"/>
<line x1="368.7" y1="158.9" x2="432.3" y2="143.0" stroke="#000" stroke-width="2"/>
<rect x="365.7" y="145.056" width="6" height="6" fill="#fff" stroke="#555" stroke-width="0.8"/>
<rect x="429.3" y="106.014" width="6" height="6" fill="#fff" stroke="#555" stroke-width="0.8"/>
<polygon points="368.7,157.347 371.7,162.347 365.7,162.347" fill="#fff" stroke="#555" stroke-width="0.8"/>
<polygon points="432.3,133.488 435.3,138.488 429.3,138.488" fill="#fff" stroke="#555" stroke-width="0.8"/>
<polygon points="368.7,159.51600000000002 371.7,162.51600000000002 368.7,165.51600000000002 365.7,162.51600000000002" fill="#000"/>
<polygon points="432.3,104.56800000000001 435.3,107.56800000000001 432.3,110.56800000000001 429.3,107.56800000000001" fill="#000"/>
<rect x="365.7" y="161.685" width="6" height="6" fill="#000"/>
<rect x="429.3" y="107.46000000000001" width="6" height="6" fill="#000"/>
<polygon points="368.7,157.57000000000002 372.2,163.57000000000002 365.2,163.57000000000002" fill="#000"/>
<polygon points="432.3,102.622 435.8,108.622 428.8,108.622" fill="#000"/>
<line x1="365.2" y1="159.62400000000002" x2="372.2" y2="159.62400000000002" stroke="#000" stroke-width="1.6"/>
<line x1="428.8" y1="116.244" x2="435.8" y2="116.244" stroke="#000" stroke-width="1.6"/>
<path d="M365.7,163.96200000000002L371.7,163.96200000000002M368.7,160.46200000000002L368.7,167.46200000000002" stroke="#666" stroke-width="0.8"/>
<path d="M429.3,128.535L435.3,128.535M432.3,125.035L432.3,132.035" stroke="#666" stroke-width="0.8"/>
<circle cx="368.7" cy="166.131" r="2.5" fill="#000"/>
<circle cx="432.3" cy="133.596" r="2.5" fill="#000"/>
<path d="M365.7,157.455L371.7,157.455M368.7,154.455L368.7,160.455" stroke="#000" stroke-width="1"/>
<path d="M429.3,135.76500000000001L435.3,135.76500000000001M432.3,132.76500000000001L432.3,138.76500000000001" stroke="#000" stroke-width="1"/>
<polygon points="426.6,92.7 427.4,94.8 429.6,94.9 427.9,96.3 428.5,98.5 426.6,97.3 424.7,98.5 425.3,96.3 423.6,94.9 425.8,94.8" fill="#000"/>
<polygon points="432.2,92.7 433.0,94.8 435.2,94.9 433.5,96.3 434.1,98.5 432.2,97.3 430.3,98.5 430.9,96.3 429.2,94.9 431.4,94.8" fill="#000"/>
<polygon points="437.8,92.7 438.6,94.8 440.8,94.9 439.1,96.3 439.7,98.5 437.8,97.3 435.9,98.5 436.5,96.3 434.8,94.9 437.0,94.8" fill="#000"/>
<line x1="336.7" y1="179.8" x2="336.7" y2="251.6" stroke="#c4c4c4" stroke-width="1"/>
<line x1="334.2" y1="251.6" x2="336.7" y2="251.6" stroke="#c4c4c4" stroke-width="1"/>
<text x="330.2" y="255.0" font-size="9.6" font-weight="normal" text-anchor="end" fill="#505050" >0</text>
<line x1="334.2" y1="237.2" x2="336.7" y2="237.2" stroke="#c4c4c4" stroke-width="1"/>
<text x="330.2" y="240.64000000000001" font-size="9.6" font-weight="normal" text-anchor="end" fill="#505050" >20</text>
<line x1="334.2" y1="222.9" x2="336.7" y2="222.9" stroke="#c4c4c4" stroke-width="1"/>
<text x="330.2" y="226.28" font-size="9.6" font-weight="normal" text-anchor="end" fill="#505050" >40</text>
<line x1="334.2" y1="208.5" x2="336.7" y2="208.5" stroke="#c4c4c4" stroke-width="1"/>
<text x="330.2" y="211.92000000000002" font-size="9.6" font-weight="normal" text-anchor="end" fill="#505050" >60</text>
<line x1="334.2" y1="194.2" x2="336.7" y2="194.2" stroke="#c4c4c4" stroke-width="1"/>
<text x="330.2" y="197.56000000000003" font-size="9.6" font-weight="normal" text-anchor="end" fill="#505050" >80</text>
<line x1="334.2" y1="179.8" x2="336.7" y2="179.8" stroke="#c4c4c4" stroke-width="1"/>
<text x="330.2" y="183.20000000000002" font-size="9.6" font-weight="normal" text-anchor="end" fill="#505050" >100</text>
<text font-size="8.2" font-weight="bold" text-anchor="middle" transform="translate(308.5,213.3) rotate(-90)">% of CD86<tspan font-size="5.2" font-weight="normal" dy="-2.6" dx="0.3">low</tspan><tspan dy="2.6"> DC</tspan></text>
<line x1="368.7" y1="248.0" x2="432.3" y2="209.2" stroke="#000" stroke-width="2"/>
<line x1="368.7" y1="249.4" x2="432.3" y2="226.5" stroke="#000" stroke-width="2"/>
<line x1="368.7" y1="251.6" x2="432.3" y2="215.7" stroke="#000" stroke-width="2"/>
<line x1="368.7" y1="245.9" x2="432.3" y2="204.2" stroke="#000" stroke-width="2"/>
<line x1="368.7" y1="247.3" x2="432.3" y2="218.6" stroke="#000" stroke-width="2"/>
<line x1="368.7" y1="250.2" x2="432.3" y2="220.0" stroke="#000" stroke-width="2"/>
<line x1="368.7" y1="244.4" x2="432.3" y2="221.4" stroke="#000" stroke-width="2"/>
<line x1="368.7" y1="248.7" x2="432.3" y2="222.9" stroke="#000" stroke-width="2"/>
<line x1="368.7" y1="246.6" x2="432.3" y2="224.3" stroke="#000" stroke-width="2"/>
<line x1="368.7" y1="245.1" x2="432.3" y2="225.8" stroke="#000" stroke-width="2"/>
<line x1="368.7" y1="242.3" x2="432.3" y2="189.9" stroke="#000" stroke-width="2"/>
<line x1="368.7" y1="248.0" x2="432.3" y2="222.9" stroke="#000" stroke-width="2"/>
<line x1="368.7" y1="249.4" x2="432.3" y2="191.3" stroke="#000" stroke-width="2"/>
<rect x="365.7" y="239.266" width="6" height="6" fill="#fff" stroke="#555" stroke-width="0.8"/>
<rect x="429.3" y="186.852" width="6" height="6" fill="#fff" stroke="#555" stroke-width="0.8"/>
<polygon points="368.7,245.01 371.7,250.01 365.7,250.01" fill="#fff" stroke="#555" stroke-width="0.8"/>
<polygon points="432.3,219.88 435.3,224.88 429.3,224.88" fill="#fff" stroke="#555" stroke-width="0.8"/>
<polygon points="368.7,245.01 371.7,248.01 368.7,251.01 365.7,248.01" fill="#000"/>
<polygon points="432.3,206.238 435.3,209.238 432.3,212.238 429.3,209.238" fill="#000"/>
<rect x="365.7" y="246.446" width="6" height="6" fill="#000"/>
<rect x="429.3" y="223.47" width="6" height="6" fill="#000"/>
<polygon points="368.7,248.1 372.2,254.1 365.2,254.1" fill="#000"/>
<polygon points="432.3,212.2 435.8,218.2 428.8,218.2" fill="#000"/>
<line x1="365.2" y1="245.856" x2="372.2" y2="245.856" stroke="#000" stroke-width="1.6"/>
<line x1="428.8" y1="204.212" x2="435.8" y2="204.212" stroke="#000" stroke-width="1.6"/>
<path d="M365.7,247.292L371.7,247.292M368.7,243.792L368.7,250.792" stroke="#666" stroke-width="0.8"/>
<path d="M429.3,218.572L435.3,218.572M432.3,215.072L432.3,222.072" stroke="#666" stroke-width="0.8"/>
<circle cx="368.7" cy="250.164" r="2.5" fill="#000"/>
<circle cx="432.3" cy="220.008" r="2.5" fill="#000"/>
<path d="M365.7,244.42L371.7,244.42M368.7,241.42L368.7,247.42" stroke="#000" stroke-width="1"/>
<path d="M429.3,221.444L435.3,221.444M432.3,218.444L432.3,224.444" stroke="#000" stroke-width="1"/>
<polygon points="426.6,175.7 427.4,177.8 429.6,177.9 427.9,179.3 428.5,181.5 426.6,180.3 424.7,181.5 425.3,179.3 423.6,177.9 425.8,177.8" fill="#000"/>
<polygon points="432.2,175.7 433.0,177.8 435.2,177.9 433.5,179.3 434.1,181.5 432.2,180.3 430.3,181.5 430.9,179.3 429.2,177.9 431.4,177.8" fill="#000"/>
<polygon points="437.8,175.7 438.6,177.8 440.8,177.9 439.1,179.3 439.7,181.5 437.8,180.3 435.9,181.5 436.5,179.3 434.8,177.9 437.0,177.8" fill="#000"/>
<line x1="337.2" y1="263.5" x2="337.2" y2="332.8" stroke="#c4c4c4" stroke-width="1"/>
<line x1="334.7" y1="332.8" x2="337.2" y2="332.8" stroke="#c4c4c4" stroke-width="1"/>
<text x="330.7" y="336.2" font-size="9.6" font-weight="normal" text-anchor="end" fill="#505050" >0</text>
<line x1="334.7" y1="318.9" x2="337.2" y2="318.9" stroke="#c4c4c4" stroke-width="1"/>
<text x="330.7" y="322.34" font-size="9.6" font-weight="normal" text-anchor="end" fill="#505050" >20</text>
<line x1="334.7" y1="305.1" x2="337.2" y2="305.1" stroke="#c4c4c4" stroke-width="1"/>
<text x="330.7" y="308.47999999999996" font-size="9.6" font-weight="normal" text-anchor="end" fill="#505050" >40</text>
<line x1="334.7" y1="291.2" x2="337.2" y2="291.2" stroke="#c4c4c4" stroke-width="1"/>
<text x="330.7" y="294.62" font-size="9.6" font-weight="normal" text-anchor="end" fill="#505050" >60</text>
<line x1="334.7" y1="277.4" x2="337.2" y2="277.4" stroke="#c4c4c4" stroke-width="1"/>
<text x="330.7" y="280.76" font-size="9.6" font-weight="normal" text-anchor="end" fill="#505050" >80</text>
<line x1="334.7" y1="263.5" x2="337.2" y2="263.5" stroke="#c4c4c4" stroke-width="1"/>
<text x="330.7" y="266.9" font-size="9.6" font-weight="normal" text-anchor="end" fill="#505050" >100</text>
<line x1="337.2" y1="332.8" x2="463.8" y2="332.8" stroke="#bdbdbd" stroke-width="1"/>
<line x1="400.8" y1="332.8" x2="400.8" y2="335.8" stroke="#bdbdbd" stroke-width="1"/>
<line x1="463.8" y1="332.8" x2="463.8" y2="335.8" stroke="#bdbdbd" stroke-width="1"/>
<text font-size="8.9" font-weight="bold" text-anchor="middle" transform="translate(308.5,298.3) rotate(-90)">% of IL-12<tspan font-size="5.2" font-weight="normal" dy="-2.6" dx="0.3">low</tspan><tspan dy="2.6"> DC</tspan></text>
<line x1="368.7" y1="329.3" x2="432.3" y2="292.6" stroke="#000" stroke-width="2"/>
<line x1="368.7" y1="325.9" x2="432.3" y2="312.0" stroke="#000" stroke-width="2"/>
<line x1="368.7" y1="332.8" x2="432.3" y2="281.5" stroke="#000" stroke-width="2"/>
<line x1="368.7" y1="318.9" x2="432.3" y2="302.3" stroke="#000" stroke-width="2"/>
<line x1="368.7" y1="320.3" x2="432.3" y2="289.8" stroke="#000" stroke-width="2"/>
<line x1="368.7" y1="327.3" x2="432.3" y2="288.4" stroke="#000" stroke-width="2"/>
<line x1="368.7" y1="322.4" x2="432.3" y2="296.8" stroke="#000" stroke-width="2"/>
<line x1="368.7" y1="324.5" x2="432.3" y2="294.7" stroke="#000" stroke-width="2"/>
<line x1="368.7" y1="328.6" x2="432.3" y2="303.7" stroke="#000" stroke-width="2"/>
<line x1="368.7" y1="330.0" x2="432.3" y2="305.1" stroke="#000" stroke-width="2"/>
<line x1="368.7" y1="319.6" x2="432.3" y2="302.3" stroke="#000" stroke-width="2"/>
<line x1="368.7" y1="317.6" x2="432.3" y2="304.4" stroke="#000" stroke-width="2"/>
<line x1="368.7" y1="326.6" x2="432.3" y2="313.4" stroke="#000" stroke-width="2"/>
<rect x="365.7" y="316.633" width="6" height="6" fill="#fff" stroke="#555" stroke-width="0.8"/>
<rect x="429.3" y="299.308" width="6" height="6" fill="#fff" stroke="#555" stroke-width="0.8"/>
<polygon points="368.7,314.55400000000003 371.7,319.55400000000003 365.7,319.55400000000003" fill="#fff" stroke="#555" stroke-width="0.8"/>
<polygon points="432.3,301.387 435.3,306.387 429.3,306.387" fill="#fff" stroke="#555" stroke-width="0.8"/>
<polygon points="368.7,326.33500000000004 371.7,329.33500000000004 368.7,332.33500000000004 365.7,329.33500000000004" fill="#000"/>
<polygon points="432.3,289.606 435.3,292.606 432.3,295.606 429.3,292.606" fill="#000"/>
<rect x="365.7" y="322.87" width="6" height="6" fill="#000"/>
<rect x="429.3" y="309.01" width="6" height="6" fill="#000"/>
<polygon points="368.7,329.3 372.2,335.3 365.2,335.3" fill="#000"/>
<polygon points="432.3,278.01800000000003 435.8,284.01800000000003 428.8,284.01800000000003" fill="#000"/>
<line x1="365.2" y1="318.94" x2="372.2" y2="318.94" stroke="#000" stroke-width="1.6"/>
<line x1="428.8" y1="302.308" x2="435.8" y2="302.308" stroke="#000" stroke-width="1.6"/>
<path d="M365.7,320.326L371.7,320.326M368.7,316.826L368.7,323.826" stroke="#666" stroke-width="0.8"/>
<path d="M429.3,289.834L435.3,289.834M432.3,286.334L432.3,293.334" stroke="#666" stroke-width="0.8"/>
<circle cx="368.7" cy="327.25600000000003" r="2.5" fill="#000"/>
<circle cx="432.3" cy="288.448" r="2.5" fill="#000"/>
<path d="M365.7,322.40500000000003L371.7,322.40500000000003M368.7,319.40500000000003L368.7,325.40500000000003" stroke="#000" stroke-width="1"/>
<path d="M429.3,296.764L435.3,296.764M432.3,293.764L432.3,299.764" stroke="#000" stroke-width="1"/>
<polygon points="426.6,268.5 427.4,270.6 429.6,270.7 427.9,272.1 428.5,274.3 426.6,273.1 424.7,274.3 425.3,272.1 423.6,270.7 425.8,270.6" fill="#000"/>
<polygon points="432.2,268.5 433.0,270.6 435.2,270.7 433.5,272.1 434.1,274.3 432.2,273.1 430.3,274.3 430.9,272.1 429.2,270.7 431.4,270.6" fill="#000"/>
<polygon points="437.8,268.5 438.6,270.6 440.8,270.7 439.1,272.1 439.7,274.3 437.8,273.1 435.9,274.3 436.5,272.1 434.8,270.7 437.0,270.6" fill="#000"/>
<text x="369.7" y="350" font-size="9.6" font-weight="normal" text-anchor="middle" fill="#505050" >1 : 0</text>
<text x="432.3" y="350" font-size="9.6" font-weight="normal" text-anchor="middle" fill="#505050" >1 : 4</text>
<line x1="467.3" y1="104.3" x2="485.2" y2="104.3" stroke="#000" stroke-width="1.8"/>
<polygon points="476.3,102.3 478.3,104.3 476.3,106.3 474.3,104.3" fill="#000"/>
<text x="486.8" y="106.39999999999999" font-size="6.6" font-weight="normal" text-anchor="start" fill="#555" >sample 1</text>
<line x1="467.3" y1="117.2" x2="485.2" y2="117.2" stroke="#000" stroke-width="1.8"/>
<rect x="474.1" y="115.0" width="4.4" height="4.4" fill="#000"/>
<text x="486.8" y="119.3" font-size="6.6" font-weight="normal" text-anchor="start" fill="#555" >sample 2</text>
<line x1="467.3" y1="130.1" x2="485.2" y2="130.1" stroke="#000" stroke-width="1.8"/>
<polygon points="476.3,127.6 478.8,131.9 473.8,131.9" fill="#000"/>
<text x="486.8" y="132.2" font-size="6.6" font-weight="normal" text-anchor="start" fill="#555" >sample 3</text>
<line x1="467.3" y1="143.0" x2="485.2" y2="143.0" stroke="#000" stroke-width="1.8"/>
<text x="486.8" y="145.1" font-size="6.6" font-weight="normal" text-anchor="start" fill="#555" >sample 4</text>
<line x1="467.3" y1="155.9" x2="485.2" y2="155.9" stroke="#000" stroke-width="1.8"/>
<text x="486.8" y="158.0" font-size="6.6" font-weight="normal" text-anchor="start" fill="#555" >sample 5</text>
<line x1="467.3" y1="168.8" x2="485.2" y2="168.8" stroke="#000" stroke-width="1.8"/>
<circle cx="476.3" cy="168.8" r="2" fill="#000"/>
<text x="486.8" y="170.9" font-size="6.6" font-weight="normal" text-anchor="start" fill="#555" >sample 6</text>
<line x1="467.3" y1="181.7" x2="485.2" y2="181.7" stroke="#000" stroke-width="1.8"/>
<text x="486.8" y="183.79999999999998" font-size="6.6" font-weight="normal" text-anchor="start" fill="#555" >sample 7</text>
<line x1="467.3" y1="194.6" x2="485.2" y2="194.6" stroke="#000" stroke-width="1.8"/>
<text x="486.8" y="196.7" font-size="6.6" font-weight="normal" text-anchor="start" fill="#555" >sample 8</text>
<line x1="467.3" y1="207.5" x2="485.2" y2="207.5" stroke="#000" stroke-width="1.8"/>
<text x="486.8" y="209.6" font-size="6.6" font-weight="normal" text-anchor="start" fill="#555" >sample 9</text>
<line x1="467.3" y1="220.4" x2="485.2" y2="220.4" stroke="#000" stroke-width="1.8"/>
<text x="486.8" y="222.5" font-size="6.6" font-weight="normal" text-anchor="start" fill="#555" >sample 10</text>
<line x1="467.3" y1="233.3" x2="485.2" y2="233.3" stroke="#000" stroke-width="1.8"/>
<rect x="474.3" y="231.3" width="4" height="4" fill="#fff" stroke="#333" stroke-width="0.7"/>
<text x="486.8" y="235.4" font-size="6.6" font-weight="normal" text-anchor="start" fill="#555" >sample 11</text>
<line x1="467.3" y1="246.2" x2="485.2" y2="246.2" stroke="#000" stroke-width="1.8"/>
<polygon points="476.3,243.89999999999998 478.6,247.79999999999998 474.0,247.79999999999998" fill="#fff" stroke="#333" stroke-width="0.7"/>
<text x="486.8" y="248.29999999999998" font-size="6.6" font-weight="normal" text-anchor="start" fill="#555" >sample 12</text>
<line x1="467.3" y1="259.1" x2="485.2" y2="259.1" stroke="#000" stroke-width="1.8"/>
<text x="486.8" y="261.20000000000005" font-size="6.6" font-weight="normal" text-anchor="start" fill="#555" >sample 13</text>
</svg></body></html>
